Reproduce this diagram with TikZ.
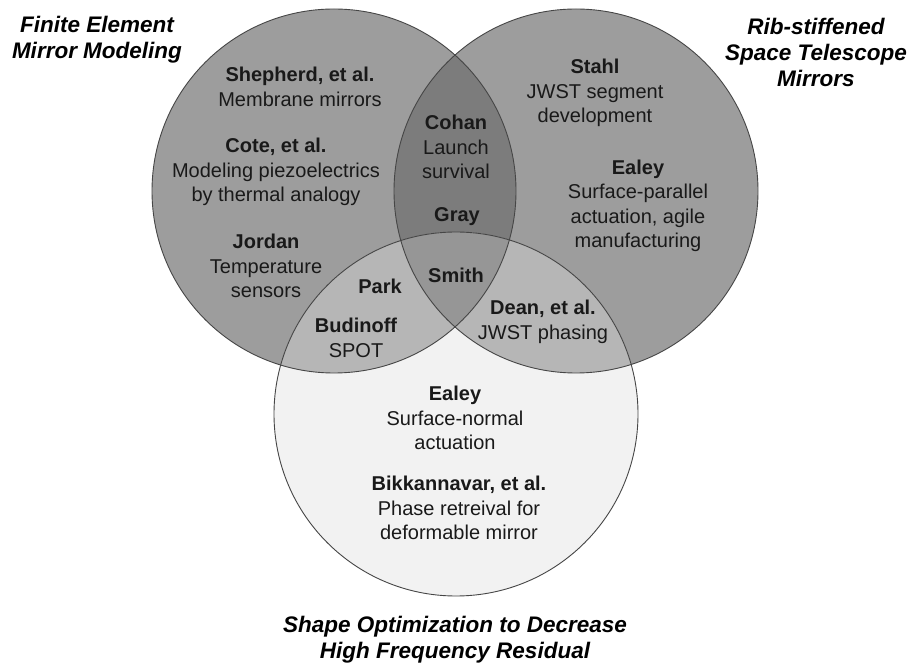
\documentclass[tikz,border=0pt]{standalone}
\usepackage{fontspec}
\setmainfont{Liberation Sans}
\definecolor{cS}{RGB}{157,157,157}
\definecolor{cLR}{RGB}{124,124,124}
\definecolor{cB}{RGB}{242,242,242}
\definecolor{cLB}{RGB}{182,182,182}
\definecolor{cLRB}{RGB}{150,150,150}
\definecolor{cEdge}{RGB}{70,70,70}
\definecolor{cText}{RGB}{25,25,25}
\begin{document}
\begin{tikzpicture}[x=1pt,y=-1pt,
  lbl/.style={align=center,inner sep=0pt,text=cText,font=\fontsize{20}{24.5}\selectfont},
  ttl/.style={align=center,inner sep=0pt,text=black,font=\fontsize{22.5}{26}\selectfont\bfseries\itshape},
  rim/.style={draw=cEdge,line width=0.9pt}]
\useasboundingbox (0,0) rectangle (914,668);
\fill[white] (0,0) rectangle (914,668);
\def\R{182pt}
\coordinate (L) at (334,191);
\coordinate (Rt) at (576,191);
\coordinate (B) at (456,414);
% fills
\fill[cS] (L) circle[radius=\R];
\fill[cS] (Rt) circle[radius=\R];
\begin{scope}
  \clip (L) circle[radius=\R];
  \fill[cLR] (Rt) circle[radius=\R];
\end{scope}
\fill[cB] (B) circle[radius=\R];
\begin{scope}
  \clip (B) circle[radius=\R];
  \fill[cLB] (L) circle[radius=\R];
  \fill[cLB] (Rt) circle[radius=\R];
  \clip (L) circle[radius=\R];
  \fill[cLRB] (Rt) circle[radius=\R];
\end{scope}
% outlines
\draw[rim] (L) circle[radius=\R];
\draw[rim] (Rt) circle[radius=\R];
\draw[rim] (B) circle[radius=\R];
% titles
\node[ttl] (tL) at (97,40) {Finite Element\\Mirror Modeling};
\node[ttl] (tR) at (816,52) {Rib-stiffened\\Space Telescope\\Mirrors};
\node[ttl] (tB) at (455,640) {Shape Optimization to Decrease\\High Frequency Residual};
% left
\node[lbl] (shep) at (300,87) {\textbf{Shepherd, et al.}\\Membrane mirrors};
\node[lbl] (cote) at (276,172) {\textbf{Cote, et al.}\\Modeling piezoelectrics\\by thermal analogy};
\node[lbl] (jord) at (266,266) {\textbf{Jordan}\\Temperature\\sensors};
% left-right
\node[lbl] (cohan) at (456,147) {\textbf{Cohan}\\Launch\\survival};
\node[lbl] (gray) at (457,217) {\textbf{Gray}};
% triple
\node[lbl] (smith) at (456,275) {\textbf{Smith}};
% left-bottom
\node[lbl] (park) at (380,286) {\textbf{Park}};
\node[lbl] (budi) at (356,338) {\textbf{Budinoff}\\SPOT};
% right
\node[lbl] (stahl) at (595,93) {\textbf{Stahl}\\JWST segment\\development};
\node[lbl] (ealR) at (638,206) {\textbf{Ealey}\\Surface-parallel\\actuation, agile\\manufacturing};
% right-bottom
\node[lbl] (dean) at (543,322) {\textbf{Dean, et al.}\\JWST phasing};
% bottom
\node[lbl] (ealB) at (455,418) {\textbf{Ealey}\\Surface-normal\\actuation};
\node[lbl] (bikk) at (459,508) {\textbf{Bikkannavar, et al.}\\Phase retreival for\\deformable mirror};
\end{tikzpicture}
\end{document}
